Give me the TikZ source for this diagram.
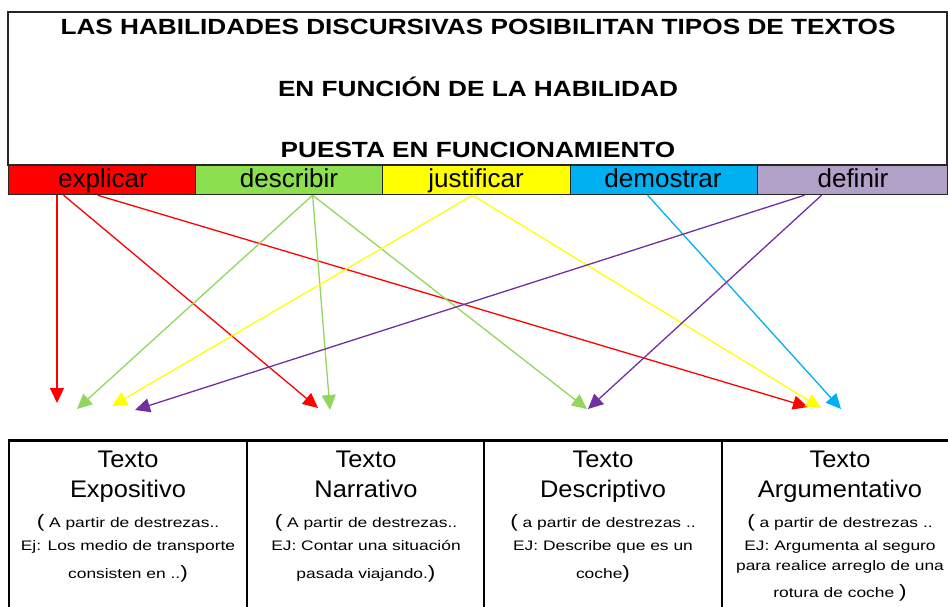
\documentclass[tikz,border=0pt]{standalone}
\usepackage{fontspec}
\setmainfont{Liberation Sans}
\newfontfamily\titlefam[FakeStretch=1.19]{Liberation Sans}
\newfontfamily\boxfam[FakeStretch=1.06]{Liberation Sans}
\newfontfamily\smallfam[FakeStretch=1.26]{Liberation Sans}
\usetikzlibrary{arrows.meta}
\definecolor{cred}{HTML}{FF0000}
\definecolor{cgreen}{HTML}{8CE050}
\definecolor{cgreenl}{HTML}{92D660}
\definecolor{cyellow}{HTML}{FFFF00}
\definecolor{cblue}{HTML}{00B0F0}
\definecolor{cpurple}{HTML}{B1A0C7}
\definecolor{cpurpled}{HTML}{7030A0}
\tikzset{
  titletext/.style={anchor=base,inner sep=0pt,font=\titlefam\bfseries\fontsize{22}{22}\selectfont},
  cell/.style={draw=black!85,line width=1.2pt,minimum height=29pt,inner sep=0pt,anchor=north west},
  celltext/.style={anchor=base,inner sep=0pt,font=\fontsize{26}{26}\selectfont},
  boxtitle/.style={anchor=base,inner sep=0pt,font=\boxfam\fontsize{24}{24}\selectfont},
  smalltext/.style={anchor=base,inner sep=0pt,font=\smallfam\fontsize{13.8}{14}\selectfont},
  conn/.style={line width=1.3pt,-{Triangle[length=15pt,width=14pt]}},
}
\newcommand{\bigp}[1]{{\fontsize{18}{18}\selectfont #1}}
\begin{document}
\begin{tikzpicture}[x=1pt,y=-1pt]
\useasboundingbox (0,0) rectangle (948,606);
\clip (0,0) rectangle (948,606);
% top box
\draw[line width=1.4pt,draw=black!85] (8,12) rectangle (947,165);
\node[titletext] (tl1) at (478,34) {LAS HABILIDADES DISCURSIVAS POSIBILITAN TIPOS DE TEXTOS};
\node[titletext] (tl2) at (478,96) {EN FUNCIÓN DE LA HABILIDAD};
\node[titletext] (tl3) at (478,157) {PUESTA EN FUNCIONAMIENTO};
% band
\node[cell,fill=cred,minimum width=187pt] (explicar) at (8,165) {};
\node[cell,fill=cgreen,minimum width=187pt] (describir) at (195,165) {};
\node[cell,fill=cyellow,minimum width=188pt] (justificar) at (382,165) {};
\node[cell,fill=cblue,minimum width=187pt] (demostrar) at (570,165) {};
\node[cell,fill=cpurple,minimum width=190pt] (definir) at (757,165) {};
\node[celltext] (lexplicar) at (103,187) {explicar};
\node[celltext] (ldescribir) at (289,187) {describir};
\node[celltext] (ljustificar) at (476,187) {justificar};
\node[celltext] (ldemostrar) at (663,187) {demostrar};
\node[celltext] (ldefinir) at (853,187) {definir};
% arrow tips
\coordinate (tR1) at (57,403);
\coordinate (tG1) at (77,409);
\coordinate (tY1) at (112,406);
\coordinate (tP1) at (135,410);
\coordinate (tR2) at (318,408);
\coordinate (tG2) at (330,410);
\coordinate (tG3) at (587,409);
\coordinate (tP2) at (588,409);
\coordinate (tR3) at (808,407);
\coordinate (tY2) at (821,408);
\coordinate (tB1) at (841,409);
% arrows
\draw[conn,cred] (explicar.south -| tR1) -- (tR1);
\draw[conn,cred] ([xshift=-38.5pt]explicar.south) -- (tR2);
\draw[conn,cred] ([xshift=-4.5pt]explicar.south) -- (tR3);
\draw[conn,cgreenl] ([xshift=23.5pt]describir.south) -- (tG1);
\draw[conn,cgreenl] ([xshift=23.5pt]describir.south) -- (tG2);
\draw[conn,cgreenl] ([xshift=23.5pt]describir.south) -- (tG3);
\draw[conn,cyellow] ([xshift=-4pt]justificar.south) -- (tY1);
\draw[conn,cyellow] ([xshift=-4pt]justificar.south) -- (tY2);
\draw[conn,cblue] ([xshift=-16.5pt]demostrar.south) -- (tB1);
\draw[conn,cpurpled] ([xshift=-48pt]definir.south) -- (tP1);
\draw[conn,cpurpled] ([xshift=-31pt]definir.south) -- (tP2);
% bottom boxes
\draw[line width=1.6pt] (9,440) -- (9,620);
\draw[line width=1.6pt] (247,440) -- (247,620);
\draw[line width=1.6pt] (484,440) -- (484,620);
\draw[line width=1.6pt] (722,440) -- (722,620);
\draw[line width=3pt] (8,440) -- (950,440);
% box 1
\node[boxtitle] (e1) at (128,467) {Texto};
\node[boxtitle] (e2) at (128,497) {Expositivo};
\node[smalltext] (e3) at (128,527) {\bigp{(} A partir de destrezas..};
\node[smalltext] (e4) at (128,550) {Ej: Los medio de transporte};
\node[smalltext] (e5) at (128,578) {consisten en ..\bigp{)}};
% box 2
\node[boxtitle] (n1) at (366,467) {Texto};
\node[boxtitle] (n2) at (366,497) {Narrativo};
\node[smalltext] (n3) at (366,527) {\bigp{(} A partir de destrezas..};
\node[smalltext] (n4) at (366,550) {EJ: Contar una situación};
\node[smalltext] (n5) at (366,578) {pasada viajando.\bigp{)}};
% box 3
\node[boxtitle] (d1) at (603,467) {Texto};
\node[boxtitle] (d2) at (603,497) {Descriptivo};
\node[smalltext] (d3) at (603,527) {\bigp{(} a partir de destrezas ..};
\node[smalltext] (d4) at (603,550) {EJ: Describe que es un};
\node[smalltext] (d5) at (603,578) {coche\bigp{)}};
% box 4
\node[boxtitle] (a1) at (840,467) {Texto};
\node[boxtitle] (a2) at (840,497) {Argumentativo};
\node[smalltext] (a3) at (840,527) {\bigp{(} a partir de destrezas ..};
\node[smalltext] (a4) at (840,550) {EJ: Argumenta al seguro};
\node[smalltext] (a5) at (840,570) {para realice arreglo de una};
\node[smalltext] (a6) at (840,597) {rotura de coche \bigp{)}};
\end{tikzpicture}
\end{document}
